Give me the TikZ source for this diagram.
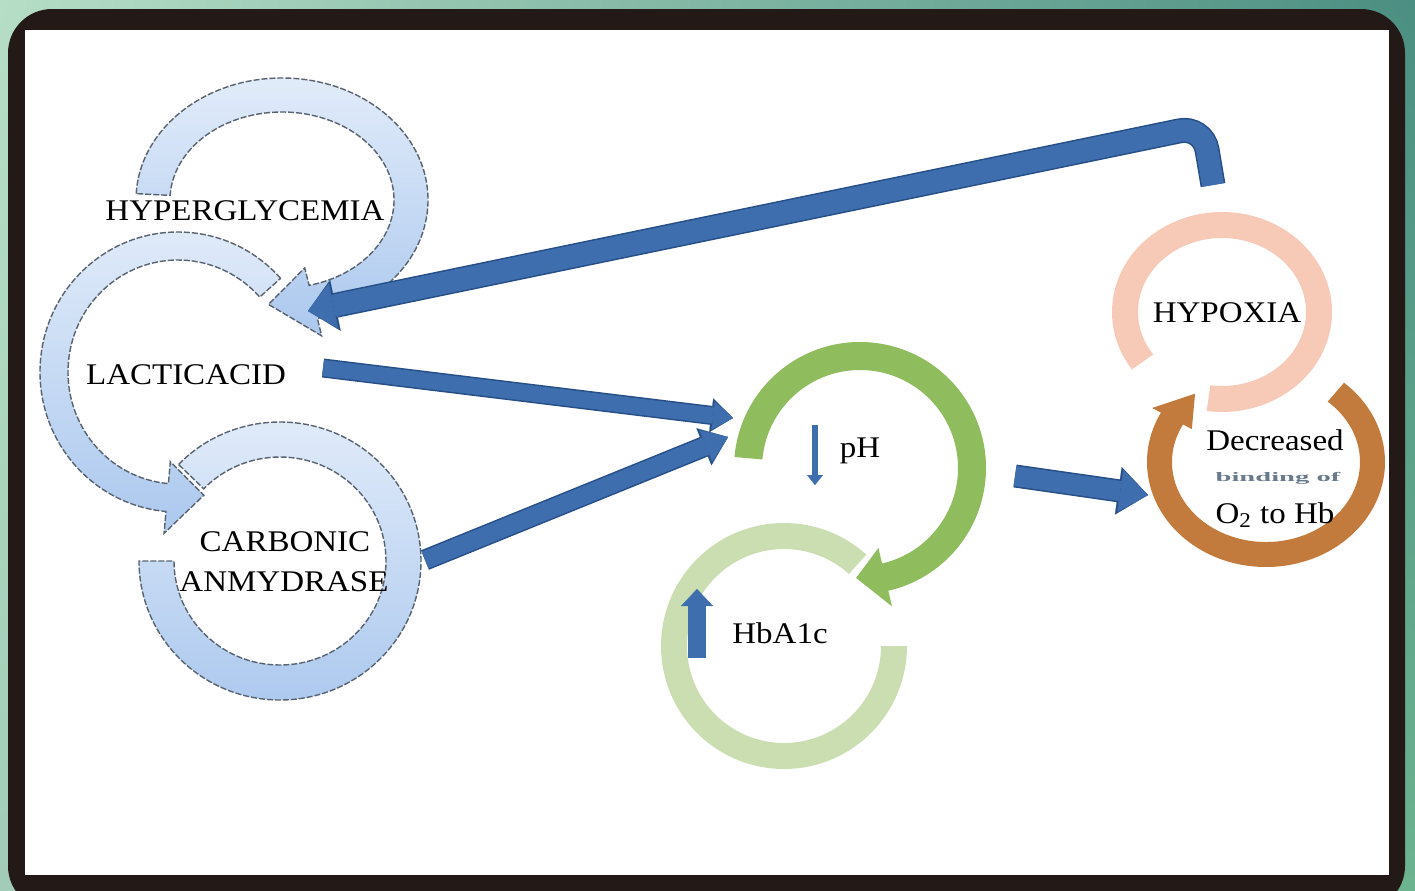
\documentclass[tikz,border=0pt]{standalone}
\usepackage{fontspec}
\usepackage{graphicx}
\setmainfont{Liberation Serif}[FakeStretch=1.1]
\usetikzlibrary{arrows.meta,shadings}
\definecolor{bgUL}{HTML}{B6DEC6}
\definecolor{bgUR}{HTML}{4B8F82}
\definecolor{bgLL}{HTML}{A2CCB8}
\definecolor{bgLR}{HTML}{6CB390}
\definecolor{frameDark}{HTML}{231A17}
\definecolor{ringTop}{HTML}{E2ECFA}
\definecolor{ringBot}{HTML}{ABC8EE}
\definecolor{ringEdge}{HTML}{58636F}
\definecolor{arrowFill}{HTML}{3E6EAD}
\definecolor{arrowEdge}{HTML}{274F87}
\definecolor{phGreen}{HTML}{8FBC5C}
\definecolor{hbGreen}{HTML}{CADEB2}
\definecolor{hypPeach}{HTML}{F6CAB6}
\definecolor{decBrown}{HTML}{C27B3C}
\definecolor{blurText}{HTML}{6A7A8A}
\tikzset{
  blueRing/.style={top color=ringTop, bottom color=ringBot, draw=ringEdge, line width=0.7pt, dash pattern=on 3pt off 1pt},
  flatRing/.style={fill=#1, draw=none},
  lbl/.style={inner sep=0pt, anchor=base, text=black, font=\fontsize{15pt}{18pt}\selectfont},
  bigarrow/.style={draw=arrowFill, line cap=butt},
}
\begin{document}
\begin{tikzpicture}[x=0.5pt,y=-0.5pt]
\useasboundingbox (0,0) rectangle (1415,890);
% background and frame
\shade[upper left=bgUL, upper right=bgUR, lower left=bgLL, lower right=bgLR] (0,0) rectangle (1415,890);
\fill[frameDark, rounded corners=22pt] (8,9) rectangle (1405,910);
\fill[white] (25,30) rectangle (1389,875);

% ---- blue rings ----
% carbonic anhydrase ring
\begin{scope}[shift={(280,561)}]
\path[blueRing] (224:141 and 139) arc[start angle=224,end angle=540,x radius=141,y radius=139]
  -- (540:106 and 104) arc[start angle=540,end angle=224,x radius=106,y radius=104] -- cycle;
\end{scope}
% lactic acid ring
\begin{scope}[shift={(178,372)}]
\path[blueRing] (318:138 and 140) arc[start angle=318,end angle=95,x radius=138,y radius=140]
  -- (95:160 and 162) -- (78:124 and 126) -- (95:88 and 90)
  -- (95:110 and 112) arc[start angle=95,end angle=318,x radius=110,y radius=112] -- cycle;
\end{scope}
% hyperglycemia ring
\begin{scope}[shift={(282,200)}]
\path[blueRing] (183:146 and 122) arc[start angle=183,end angle=436,x radius=146,y radius=122]
  -- (436:164 and 140) -- (456:129 and 105) -- (436:94 and 70)
  -- (436:112 and 88) arc[start angle=436,end angle=183,x radius=112,y radius=88] -- cycle;
\end{scope}

% ---- green rings ----
\begin{scope}[shift={(784,646)}]
\path[flatRing=hbGreen] (312:123) arc[start angle=312,end angle=0,radius=123]
  -- (0:97) arc[start angle=0,end angle=312,radius=97] -- cycle;
\end{scope}
\begin{scope}[shift={(860,468)}]
\path[flatRing=phGreen] (185:126) arc[start angle=185,end angle=437,radius=126]
  -- (437:142) -- (452:110) -- (437:82)
  -- (437:98) arc[start angle=437,end angle=185,radius=98] -- cycle;
\end{scope}

% ---- right rings ----
\begin{scope}[shift={(1222,312)}]
\path[flatRing=hypPeach] (145:110 and 100) arc[start angle=145,end angle=458,x radius=110,y radius=100]
  -- (458:84 and 74) arc[start angle=458,end angle=145,x radius=84,y radius=74] -- cycle;
\end{scope}
\begin{scope}[shift={(1266,462)}]
\path[flatRing=decBrown] (311:119 and 105) arc[start angle=311,end angle=568,x radius=119,y radius=105]
  -- (568:129 and 115) -- (588:106 and 92) -- (568:84 and 70)
  -- (568:94 and 80) arc[start angle=568,end angle=311,x radius=94,y radius=80] -- cycle;
\end{scope}

% ---- connector coordinates ----
\coordinate (lacOut) at (323,368);
\coordinate (phInA) at (733,418);
\coordinate (carOut) at (425,560);
\coordinate (phInB) at (728,437);
\coordinate (phOut) at (1015,476);
\coordinate (decIn) at (1148,495);
\coordinate (hypOut) at (1213,185);
\coordinate (bend) at (1203,126);
\coordinate (lacIn) at (308,311);

% ---- big blue arrows ----
\draw[bigarrow, line width=8pt, preaction={draw=arrowEdge, line width=9.5pt, -{Triangle[length=11pt,width=17pt,line width=0.1pt]}},
  -{Triangle[length=10pt,width=14pt,line width=0.1pt]}] (lacOut) -- (phInA);
\draw[bigarrow, line width=9pt, preaction={draw=arrowEdge, line width=10.5pt, -{Triangle[length=13pt,width=20pt,line width=0.1pt]}},
  -{Triangle[length=12pt,width=17pt,line width=0.1pt]}] (carOut) -- (phInB);
\draw[bigarrow, line width=10pt, preaction={draw=arrowEdge, line width=11.5pt, -{Triangle[length=15pt,width=24pt,line width=0.1pt]}},
  -{Triangle[length=14pt,width=21pt,line width=0.1pt]}] (phOut) -- (decIn);
\draw[bigarrow, line width=11pt, rounded corners=12pt, preaction={draw=arrowEdge, line width=12.5pt, -{Triangle[length=14pt,width=26pt,line width=0.1pt]}},
  -{Triangle[length=13pt,width=23pt,line width=0.1pt]}] (hypOut) -- (bend) -- (lacIn);

% ---- small arrows ----
\coordinate (phArrTop) at (815,425);
\coordinate (phArrTip) at (815,485);
\coordinate (hbArrBot) at (697,658);
\coordinate (hbArrTip) at (697,589);
\draw[bigarrow, line width=3pt, -{Triangle[length=5pt,width=8pt,line width=0.1pt]}] (phArrTop) -- (phArrTip);
\draw[bigarrow, line width=9pt, -{Triangle[length=8.5pt,width=16pt,line width=0.1pt]}] (hbArrBot) -- (hbArrTip);

% ---- labels ----
\node[lbl] (hyper) at (245,220) {HYPERGLYCEMIA};
\node[lbl] (lactic) at (186,384) {LACTICACID};
\node[lbl] (carbA) at (285,551) {CARBONIC};
\node[lbl] (carbB) at (284,591) {ANMYDRASE};
\node[lbl] (ph) at (860,457) {pH};
\node[lbl] (hba) at (780,643) {HbA1c};
\node[lbl] (hypoxia) at (1227,322) {HYPOXIA};
\node[lbl] (decr) at (1275,450) {Decreased};
\node[inner sep=0pt, text=blurText, font=\fontsize{13pt}{14pt}\selectfont\bfseries] (bind) at (1278,478) {\scalebox{1}[0.5]{binding of}};
\node[lbl] (o2hb) at (1275,523) {O\textsubscript{2} to Hb};
\end{tikzpicture}
\end{document}
